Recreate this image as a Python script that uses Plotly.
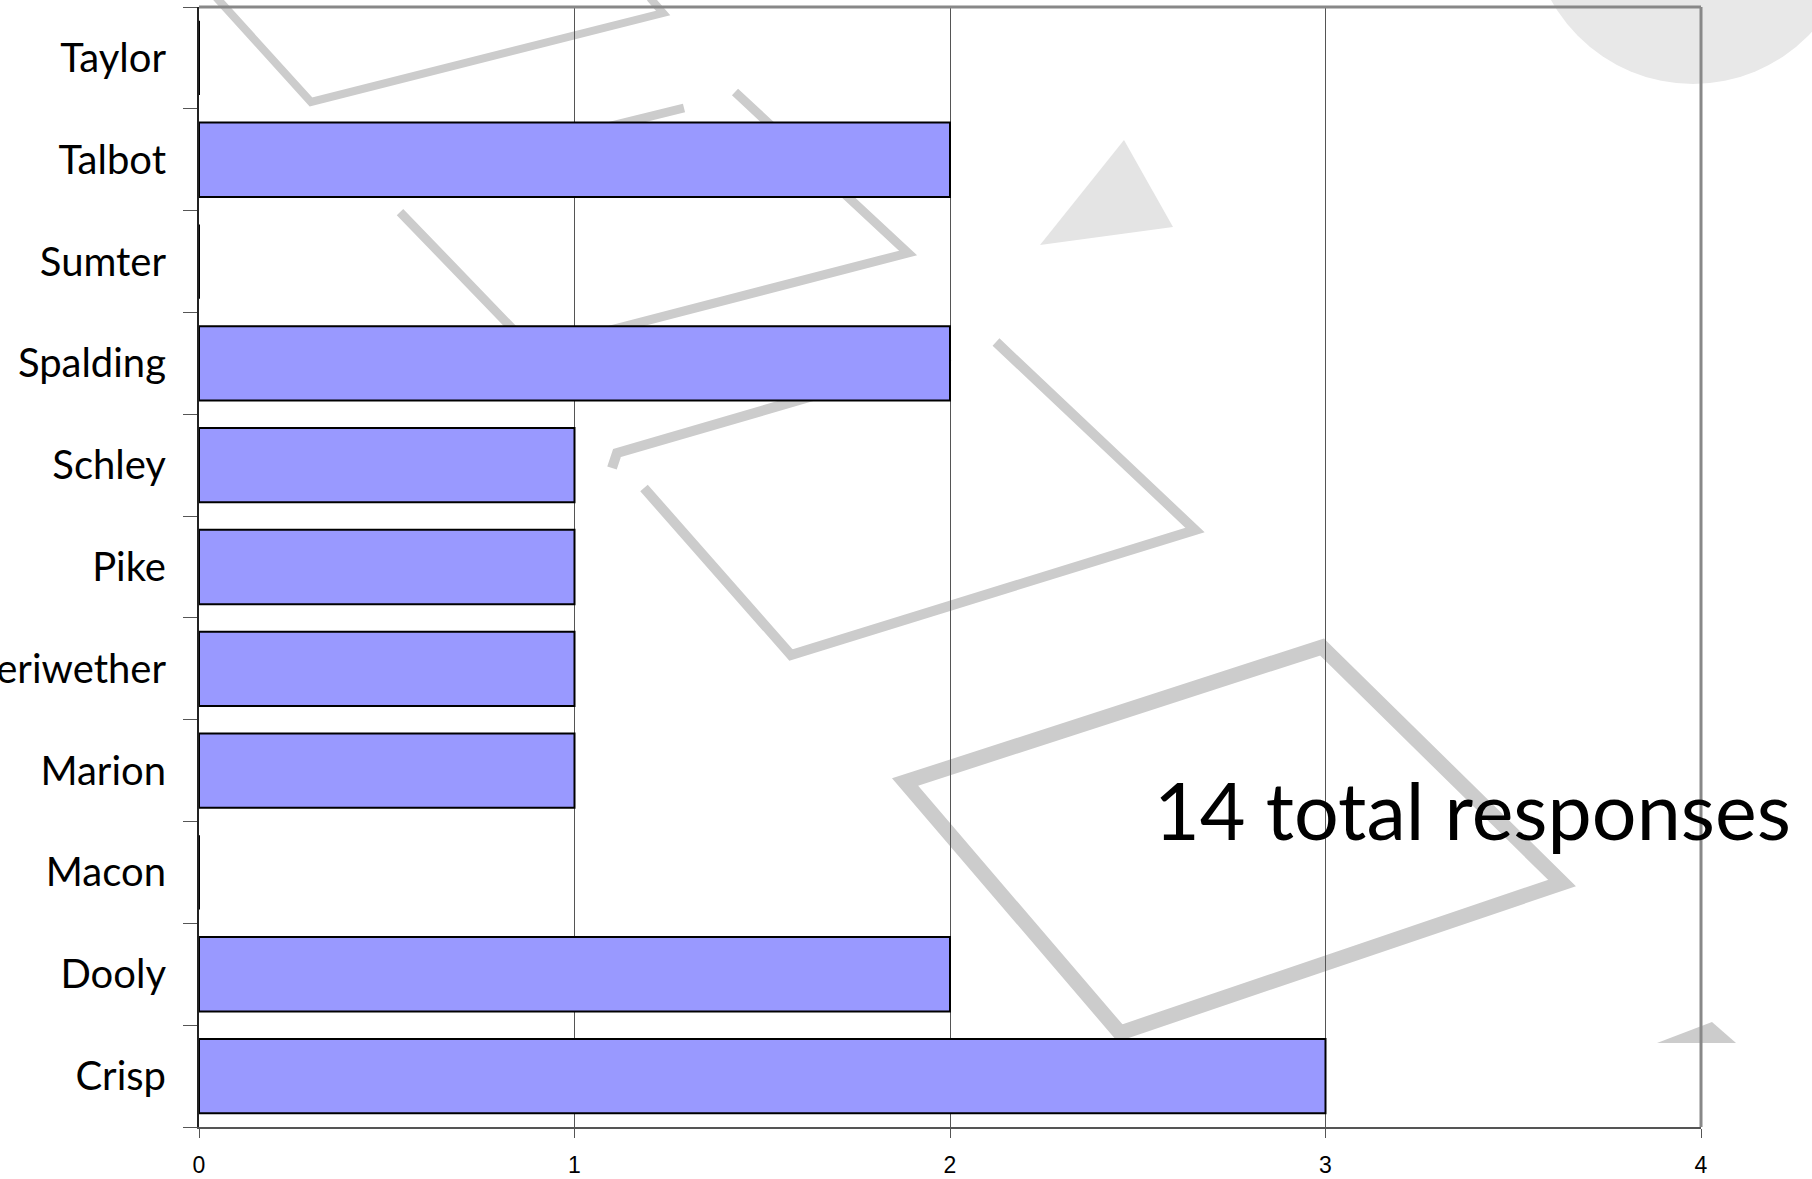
import plotly.graph_objects as go

counties = ["Crisp", "Dooly", "Macon", "Marion", "Meriwether", "Pike",
            "Schley", "Spalding", "Sumter", "Talbot", "Taylor"]
responses = [3, 2, 0, 1, 1, 1, 1, 2, 0, 2, 0]
x_ticks = [0, 1, 2, 3, 4]
note_text = "14 total responses"

W, H = 1812, 1179
L, R, T, B = 199, 1701, 7, 1127


def px(x, y):
    return ((x - L) / (R - L), (B - y) / (B - T))


def path(points, close=False):
    s = ""
    for i, (x, y) in enumerate(points):
        u, v = px(x, y)
        s += ("M" if i == 0 else " L") + f"{u:.5f},{v:.5f}"
    if close:
        s += " Z"
    return s


WM = "#cccccc"
shapes = []


def wline(points, width, close=False, color=WM):
    shapes.append(dict(type="path", xref="paper", yref="paper", layer="below",
                       path=path(points, close),
                       line=dict(color=color, width=width)))


def wfill(points, color):
    shapes.append(dict(type="path", xref="paper", yref="paper", layer="below",
                       path=path(points, True), fillcolor=color,
                       line=dict(color=color, width=0)))


# background watermark (decorative)
cx0, cy0 = px(1530, -246)
cx1, cy1 = px(1856, 84)
shapes.append(dict(type="circle", xref="paper", yref="paper", layer="below",
                   x0=cx0, y0=cy1, x1=cx1, y1=cy0, fillcolor="#e8e8e8",
                   line=dict(width=0)))
wfill([(1124, 140), (1173, 227), (1040, 245)], "#e4e4e4")
wfill([(1657, 1043), (1712, 1022), (1736, 1043)], "#cccccc")
# diamond A
wline([(205, -15), (311, 102), (663, 13), (650, -2)], 8)
# diamond B
wline([(735, 92), (908, 253), (533, 350), (400, 212)], 9)
wline([(376, 184), (684, 108)], 9)
# diamond C
wline([(996, 342), (1195, 530), (791, 655), (644, 488)], 10)
wline([(612, 468), (617, 453), (950, 356)], 10)
# diamond D
wline([(1322, 647), (1562, 883), (1120, 1033), (905, 782)], 15, close=True)

# plot frame (top & right)
shapes.append(dict(type="line", xref="paper", yref="paper", layer="above",
                   x0=0, x1=1, y0=1, y1=1, line=dict(color="#888888", width=3)))
shapes.append(dict(type="line", xref="paper", yref="paper", layer="above",
                   x0=1, x1=1, y0=0, y1=1, line=dict(color="#888888", width=3)))

fig = go.Figure(go.Bar(
    x=responses, y=counties, orientation="h",
    marker=dict(color="#9999ff", line=dict(color="#000000", width=2)),
))

nx, ny = px(1152, 809)
fig.add_annotation(text=note_text, xref="paper", yref="paper", x=nx, y=ny,
                   xanchor="left", yanchor="middle", showarrow=False,
                   font=dict(family="Lato", size=79, color="#000000"))

fig.update_layout(
    width=W, height=H,
    margin=dict(l=L, r=W - R, t=T, b=H - B, pad=0),
    paper_bgcolor="white", plot_bgcolor="white",
    bargap=0.27, showlegend=False, shapes=shapes,
    xaxis=dict(range=[0, 4], tickvals=x_ticks, showgrid=True,
               gridcolor="#555555", gridwidth=1, zeroline=False,
               showline=True, linecolor="#555555", linewidth=2,
               ticks="outside", ticklen=9, tickcolor="#555555", tickwidth=1,
               tickfont=dict(family="Liberation Sans", size=23, color="#000000"),
               ticklabelstandoff=7, automargin=False, fixedrange=True),
    yaxis=dict(categoryorder="array", categoryarray=counties,
               showgrid=False, zeroline=False,
               showline=True, linecolor="#222222", linewidth=2,
               ticks="outside", ticklen=14, tickcolor="#555555", tickwidth=1,
               tickson="boundaries",
               tickfont=dict(family="Lato", size=40, color="#000000"),
               ticklabelstandoff=23, automargin=False, fixedrange=True),
)

fig.write_html("out.html", config={"displayModeBar": False},
               post_script="document.body.style.margin='0';"
                           "document.body.style.overflow='hidden';"
                           "window.dispatchEvent(new Event('resize'));")
